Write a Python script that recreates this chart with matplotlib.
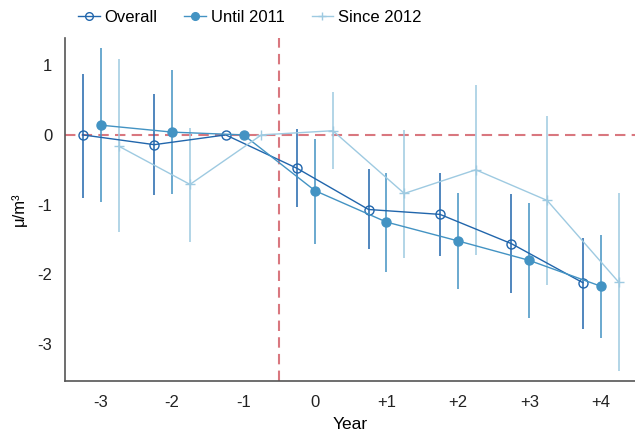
import matplotlib
matplotlib.use("Agg")
import matplotlib.pyplot as plt
import numpy as np

plt.rcParams['font.family'] = ['Liberation Sans', 'DejaVu Sans']
plt.rcParams['axes.unicode_minus'] = False

years = [-3, -2, -1, 0, 1, 2, 3, 4]
tick_labels = ['-3', '-2', '-1', '0', '+1', '+2', '+3', '+4']

overall = [0.00, -0.14, 0.00, -0.48, -1.07, -1.14, -1.56, -2.12]
overall_lo = [-0.90, -0.86, 0.00, -1.04, -1.64, -1.74, -2.27, -2.78]
overall_hi = [0.88, 0.59, 0.00, 0.08, -0.49, -0.54, -0.85, -1.48]

until = [0.14, 0.04, 0.00, -0.80, -1.25, -1.52, -1.80, -2.17]
until_lo = [-0.96, -0.85, 0.00, -1.56, -1.96, -2.21, -2.63, -2.91]
until_hi = [1.25, 0.93, 0.00, -0.06, -0.55, -0.83, -0.98, -1.43]

since = [-0.16, -0.71, 0.00, 0.06, -0.84, -0.50, -0.94, -2.11]
since_lo = [-1.39, -1.53, 0.00, -0.49, -1.76, -1.72, -2.16, -3.39]
since_hi = [1.09, 0.10, 0.00, 0.61, 0.07, 0.72, 0.27, -0.83]

fig = plt.figure(figsize=(6.35, 4.34), dpi=100)
ax = fig.add_axes([65/635, 1-381/434, 1-65/635, (381-38)/434])

ref_col = '#d9777f'
ax.axhline(0, color=ref_col, lw=1.5, ls=(0, (5, 3)), zorder=1)
ax.axvline(-0.5, color=ref_col, lw=1.5, ls=(0, (5, 3)), zorder=1)

series = [
    ('Overall', overall, overall_lo, overall_hi, -0.25, '#2166ac', 'o', 'none'),
    ('Until 2011', until, until_lo, until_hi, 0.0, '#4393c3', 'o', '#4393c3'),
    ('Since 2012', since, since_lo, since_hi, 0.25, '#9ecae1', '+', '#9ecae1'),
]
handles = []
for name, v, lo, hi, off, col, mk, fc in series:
    x = np.array(years) + off
    v = np.array(v); lo = np.array(lo); hi = np.array(hi)
    ax.vlines(x, lo, hi, color=col, lw=1.3, alpha=0.85, zorder=2)
    h, = ax.plot(x, v, color=col, lw=1.0, marker=mk, markersize=7 if mk == '+' else 6.5,
                 markerfacecolor=fc, markeredgecolor=col, markeredgewidth=1.0, zorder=3,
                 label=name)
    handles.append(h)

ax.set_xlim(-3.5, 4.48)
ax.set_ylim(-3.53, 1.39)
ax.set_xticks(years)
ax.set_xticklabels(tick_labels)
ax.set_yticks([1, 0, -1, -2, -3])
ax.tick_params(axis='both', length=0, labelsize=12, colors='#222222')
ax.tick_params(axis='x', pad=10)
ax.tick_params(axis='y', pad=9)
for s in ['top', 'right']:
    ax.spines[s].set_visible(False)
for s in ['left', 'bottom']:
    ax.spines[s].set_color('#555555')
    ax.spines[s].set_linewidth(1.2)
ax.set_xlabel('Year', fontsize=12.5, labelpad=5)
ax.set_ylabel('μ/m³', fontsize=12, labelpad=8)

fig.legend(handles=handles, loc='upper left', bbox_to_anchor=(68/635, 1.0), ncol=3,
           frameon=False, fontsize=12, handlelength=1.3, columnspacing=1.6,
           handletextpad=0.3, borderaxespad=0.2, markerscale=0.85)

fig.savefig('out.png', dpi=100)
